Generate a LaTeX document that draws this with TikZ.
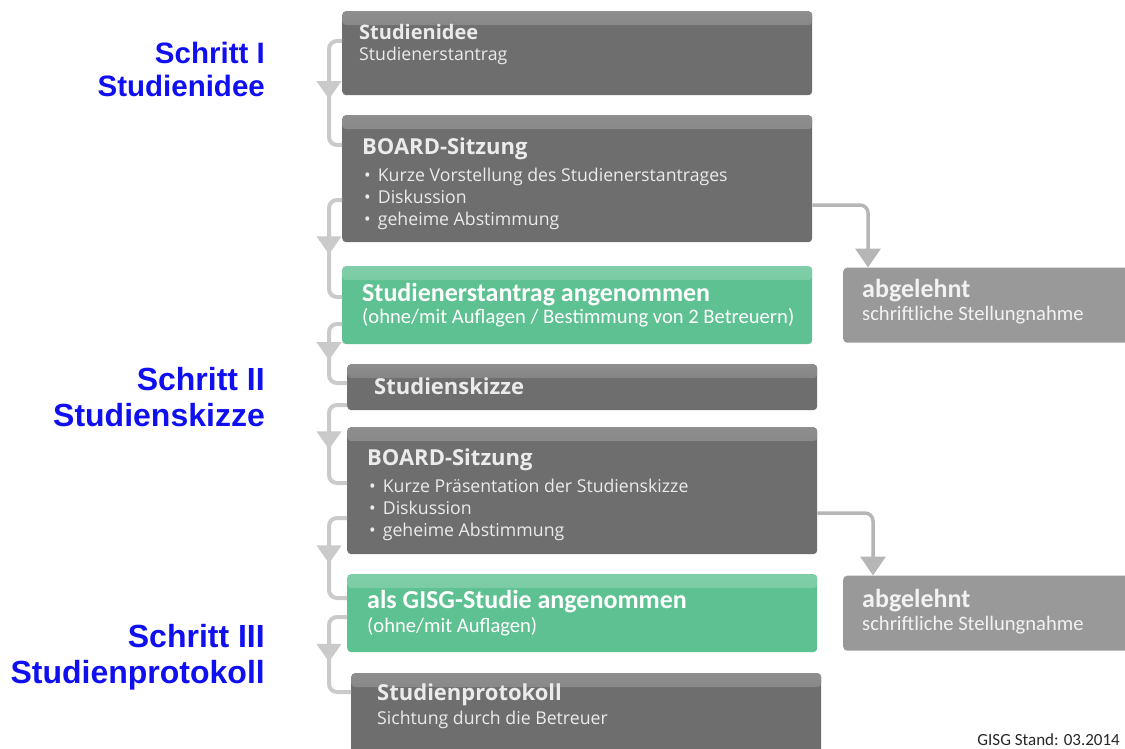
\documentclass[tikz,border=0pt]{standalone}
\usepackage{fontspec}
\usetikzlibrary{arrows.meta,decorations.markings}
\newfontfamily\boxfont{Open Sans}
\newfontfamily\notefont{Carlito}
\newfontfamily\labelfont{Liberation Sans}
\definecolor{stagegray}{RGB}{110,110,110}
\definecolor{acceptgreen}{RGB}{93,193,145}
\definecolor{rejectgray}{RGB}{153,153,153}
\definecolor{flowgray}{RGB}{202,202,202}
\definecolor{sidegray}{RGB}{182,182,182}
\definecolor{schrittblue}{RGB}{15,15,240}
\newcommand{\stagetitle}[2][22]{{\bfseries\fontsize{#1}{#1}\selectfont #2}}
\newcommand{\notetitle}[1]{{\bfseries\fontsize{26}{26}\selectfont #1}}
\newcommand{\bul}{\hspace*{2pt}\textbullet\hspace{7pt}}
\begin{document}
\begin{tikzpicture}[x=1pt,y=-1pt,
   every matrix/.style={ampersand replacement=\&,column sep=22pt,row sep=20pt,inner sep=0pt},
   gloss/.style={path picture={\shade[top color=#1!78!white,bottom color=#1]
      (path picture bounding box.north west) rectangle ([yshift=-14pt]path picture bounding box.north east);}},
   stage/.style={fill=stagegray,gloss=stagegray,rounded corners=4pt,anchor=center,inner xsep=20pt,inner ysep=0pt,
      text=white!92!black,font=\boxfont\fontsize{17.7}{21}\selectfont},
   accept/.style={fill=acceptgreen,gloss=acceptgreen,rounded corners=4pt,anchor=center,inner xsep=20pt,inner ysep=0pt,
      text=white,font=\notefont\fontsize{20.6}{22}\selectfont},
   reject/.style={fill=rejectgray,rounded corners=4pt,anchor=center,inner xsep=19pt,inner ysep=0pt,
      text=white!95!black,font=\notefont\fontsize{20.6}{23}\selectfont},
   steplabel/.style={anchor=north east,inner sep=0pt,align=right,text=schrittblue,
      font=\labelfont\bfseries\fontsize{32}{36.5}\selectfont},
   flow/.style={draw=flowgray,line width=4pt,rounded corners=8pt,postaction={decorate},
      decoration={markings,mark=at position 0.55 with {\arrow{Triangle[width=24pt,length=18pt]}}}},
   side/.style={draw=sidegray,line width=3.5pt,rounded corners=8pt,-{Triangle[width=25pt,length=19pt]}}]
\useasboundingbox (0,0) rectangle (1125,749);
\clip (0,0) rectangle (1125,749);
\matrix (chart) [anchor=north west] at (342,11) {
\node[stage] (idee) {\parbox[c][84pt][t]{430pt}{\raggedright\rule{0pt}{28pt}\hspace*{-3pt}\stagetitle[20]{Studienidee}\\\hspace*{-3pt}Studienerstantrag}};\\
\node[stage] (board1) {\parbox[c][127pt][t]{430pt}{\raggedright\rule{0pt}{39pt}\stagetitle{BOARD-Sitzung}\\[6pt]
   \bul Kurze Vorstellung des Studienerstantrages\\[1pt]\bul Diskussion\\[1pt]\bul geheime Abstimmung}};\\[4pt]
\node[accept] (accept1) {\parbox[c][78pt][t]{430pt}{\raggedright\rule{0pt}{35pt}\notetitle{Studienerstantrag angenommen}\\\mbox{(ohne/mit Auflagen / Bestimmung von 2 Betreuern)}}};
   \& \node[reject] (reject1) {\parbox[c][75pt][t]{262pt}{\raggedright\rule{0pt}{30pt}\notetitle{abgelehnt}\\schriftliche Stellungnahme}};\\
\node[stage,xshift=5pt] (skizze) {\parbox[c][46pt][t]{430pt}{\raggedright\rule{0pt}{30pt}\hspace*{7pt}\stagetitle{Studienskizze}}};\\[-3pt]
\node[stage,xshift=5pt] (board2) {\parbox[c][127pt][t]{430pt}{\raggedright\rule{0pt}{38pt}\stagetitle{BOARD-Sitzung}\\[6pt]
   \bul Kurze Präsentation der Studienskizze\\[1pt]\bul Diskussion\\[1pt]\bul geheime Abstimmung}};\\
\node[accept,xshift=5pt] (accept2) {\parbox[c][78pt][t]{430pt}{\raggedright\rule{0pt}{34pt}\notetitle{als GISG-Studie angenommen}\\[2pt](ohne/mit Auflagen)}};
   \& \node[reject] (reject2) {\parbox[c][75pt][t]{262pt}{\raggedright\rule{0pt}{32pt}\notetitle{abgelehnt}\\schriftliche Stellungnahme}};\\[1pt]
\node[stage,xshift=9pt] (protokoll) {\parbox[c][84pt][t]{430pt}{\raggedright\rule{0pt}{27pt}\hspace*{6pt}\stagetitle{Studienprotokoll}\\[3pt]\hspace*{6pt}Sichtung durch die Betreuer}};\\
};
\node[steplabel,font=\labelfont\bfseries\fontsize{29.5}{33}\selectfont] (schritt1) at (265,41.5) {Schritt I\\Studienidee};
\node[steplabel] (schritt2) at (265,366.7) {Schritt II\\Studienskizze};
\node[steplabel] (schritt3) at (265,623.7) {Schritt III\\Studienprotokoll};
\node[anchor=base east,inner sep=0pt,text=black!85,font=\notefont\fontsize{17}{18}\selectfont] (stand) at (1120,745) {GISG Stand: 03.2014};
\draw[flow] ([yshift=-30pt]idee.north west) -- ++(-13,0) |- ([yshift=-30pt]board1.north west);
\draw[flow] ([yshift=-85pt]board1.north west) -- ++(-13,0) |- ([yshift=-31pt]accept1.north west);
\draw[flow] ([yshift=-58pt]accept1.north west) -- ++(-13,0) |- ([yshift=-19pt]skizze.north west);
\draw[flow] ([yshift=-41pt]skizze.north west) -- ++(-18,0) |- ([yshift=-56pt]board2.north west);
\draw[flow] ([yshift=-91pt]board2.north west) -- ++(-18,0) |- ([yshift=-24pt]accept2.north west);
\draw[flow] ([yshift=-43pt]accept2.north west) -- ++(-18,0) |- ([yshift=-19pt]protokoll.north west);
\draw[side] ([yshift=-90pt]board1.north east) -| ([xshift=25pt]reject1.north west);
\draw[side] ([yshift=-86pt]board2.north east) -| ([xshift=30pt]reject2.north west);
\end{tikzpicture}
\end{document}
